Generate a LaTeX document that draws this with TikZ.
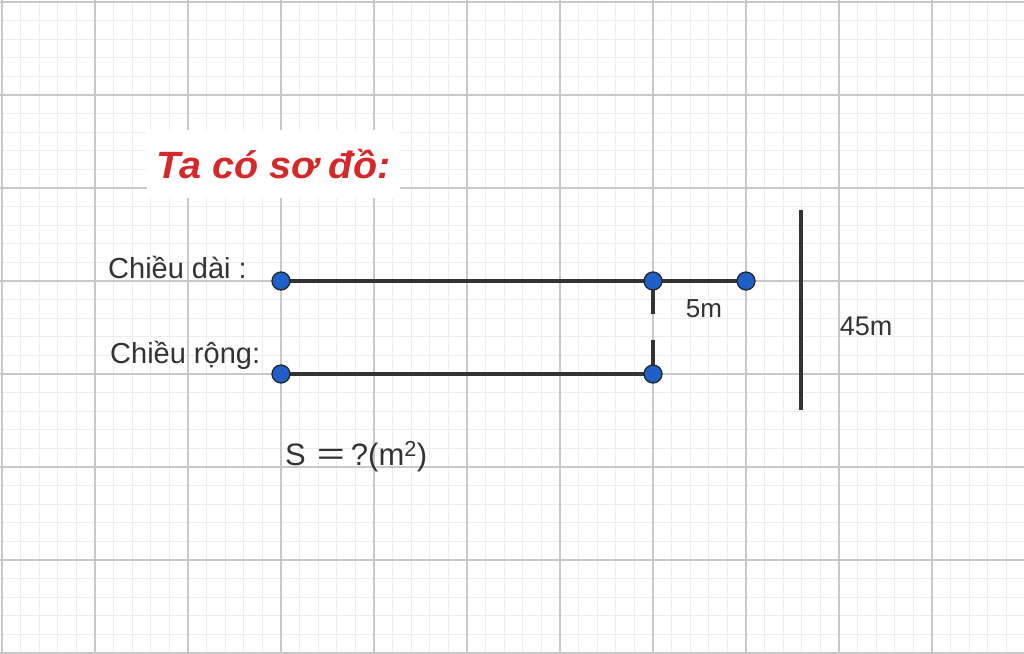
\documentclass[tikz,border=0pt]{standalone}
\usepackage{fontspec}
\setmainfont{Liberation Sans}
\usetikzlibrary{backgrounds}
\definecolor{ptblue}{HTML}{1E5FC8}
\definecolor{titlered}{HTML}{D62828}
\definecolor{segcol}{HTML}{333333}
\definecolor{minorgrid}{HTML}{EDEDED}
\definecolor{majorgrid}{HTML}{C8C8C8}
\begin{document}
\begin{tikzpicture}[x=1pt,y=-1pt,
  minorline/.style={draw=minorgrid,line width=1.3pt},
  majorline/.style={draw=majorgrid,line width=1.8pt},
  pt/.style={circle,fill=ptblue,draw=black!85,line width=1.3pt,minimum size=18pt,inner sep=0pt},
  seg/.style={draw=segcol,line width=3.5pt},
  lbl/.style={font=\fontsize{29}{32}\selectfont,text=black!80,inner sep=0pt},
  titlebox/.style={fill=white,minimum width=253pt,minimum height=68pt,inner sep=0pt,
     font=\fontsize{38}{42}\selectfont\bfseries\itshape,text=titlered}]
\useasboundingbox (0,0) rectangle (1024,653);
% points
\node[pt] (A1) at (281,281) {};
\node[pt] (A2) at (653,281) {};
\node[pt] (A3) at (746,281) {};
\node[pt] (B1) at (281,374) {};
\node[pt] (B2) at (653,374) {};
\coordinate (g1) at (653,314);
\coordinate (g2) at (653,340);
\coordinate (bt) at (801,210);
\coordinate (bb) at (801,410);
% title
\node[titlebox] (title) at (273.5,164) {\scalebox{1.04}[1]{Ta có sơ đồ:}};
% labels
\node[lbl,anchor=west] (ldai) at (108,267) {Chiều dài :};
\node[lbl,anchor=west] (lrong) at (110,355) {Chiều rộng:};
\node[lbl,font=\fontsize{26}{30}\selectfont] (l5) at (704,309) {5m};
\node[lbl,font=\fontsize{27}{30}\selectfont] (l45) at (866,326) {45m};
\node[lbl,anchor=west,font=\fontsize{31}{34}\selectfont] (area) at (285,457)
  {S\hspace{11pt}\raisebox{1pt}{\scalebox{1.55}[1]{=}}\hspace{6pt}?(m\textsuperscript{2})};
\begin{scope}[on background layer]
  \fill[white] (0,0) rectangle (1024,653);
  \foreach \i in {0,...,55} \draw[minorline] ({2+18.6*\i},0) -- ({2+18.6*\i},653);
  \foreach \i in {0,...,35} \draw[minorline] (0,{2+18.6*\i}) -- (1024,{2+18.6*\i});
  \foreach \i in {0,...,11} \draw[majorline] ({2+93*\i},0) -- ({2+93*\i},653);
  \foreach \i in {0,...,7} \draw[majorline] (0,{2+93*\i}) -- (1024,{2+93*\i});
  \draw[seg] (A1.center) -- (A3.center);
  \draw[seg] (B1.center) -- (B2.center);
  \draw[seg] (A2.center) -- (g1);
  \draw[seg] (g2) -- (B2.center);
  \draw[seg] (bt) -- (bb);
\end{scope}
\end{tikzpicture}
\end{document}
